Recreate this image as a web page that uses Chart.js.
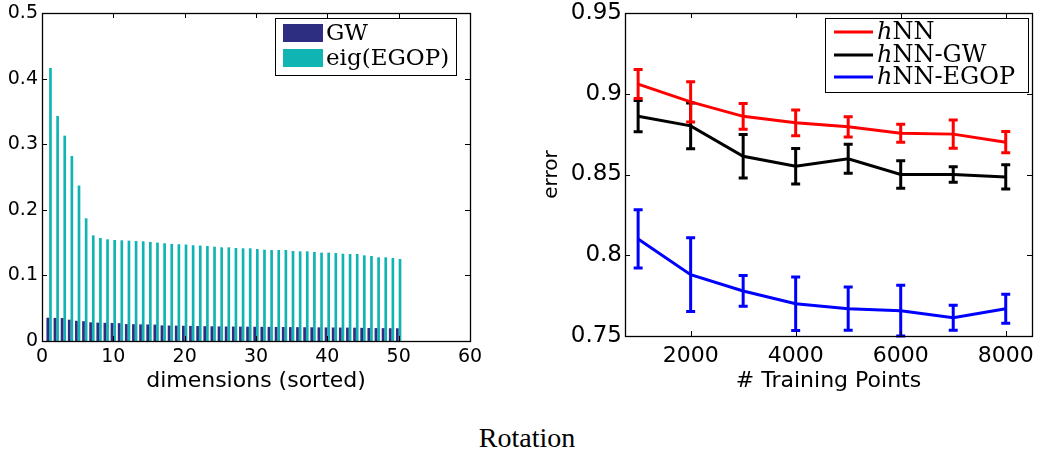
<!DOCTYPE html>
<html><head><meta charset="utf-8">
<script src="https://cdn.jsdelivr.net/npm/chart.js@4.4.0/dist/chart.umd.min.js"></script>
<style>
html,body{margin:0;padding:0;background:#fff;width:1038px;height:454px;overflow:hidden;position:relative}
#cl{position:absolute;left:0;top:0}
#cr{position:absolute;left:500px;top:0}
#cap{position:absolute;left:427px;width:200px;top:424px;text-align:center;font:28px/1 "Liberation Serif",serif;color:#000}
</style></head><body>
<canvas id="cl" width="500" height="400"></canvas>
<canvas id="cr" width="538" height="400"></canvas>
<div id="cap">Rotation</div>
<script>
// ---------- Left chart data ----------
const dims = [1,2,3,4,5,6,7,8,9,10,11,12,13,14,15,16,17,18,19,20,21,22,23,24,25,26,27,28,29,30,31,32,33,34,35,36,37,38,39,40,41,42,43,44,45,46,47,48,49,50];
const gwValues = [0.0355,0.0352,0.0350,0.0325,0.0308,0.0302,0.0285,0.0280,0.0277,0.0275,0.0272,0.0258,0.0256,0.0254,0.0252,0.0250,0.0238,0.0236,0.0234,0.0232,0.0230,0.0228,0.0226,0.0224,0.0222,0.0221,0.0220,0.0219,0.0218,0.0217,0.0216,0.0215,0.0214,0.0213,0.0212,0.0211,0.0210,0.0209,0.0208,0.0207,0.0206,0.0205,0.0204,0.0203,0.0201,0.0198,0.0197,0.0196,0.0195,0.0194];
const egopValues = [0.416,0.343,0.313,0.282,0.237,0.187,0.161,0.157,0.155,0.154,0.1535,0.153,0.1525,0.152,0.151,0.150,0.149,0.148,0.1475,0.147,0.146,0.1455,0.1448,0.1438,0.1428,0.1428,0.1418,0.1413,0.1413,0.1402,0.1392,0.1387,0.1387,0.1387,0.1372,0.1367,0.1367,0.1357,0.1347,0.1347,0.1341,0.1331,0.1326,0.1326,0.1306,0.1296,0.1276,0.1276,0.1265,0.125];
const leftXTicks = [0,10,20,30,40,50,60];
const leftYTicks = [0,0.1,0.2,0.3,0.4,0.5];
const leftSeriesNames = ['GW','eig(EGOP)'];
const leftXTitle = 'dimensions (sorted)';

// ---------- Right chart data ----------
const trainingPoints = [1000,2000,3000,4000,5000,6000,7000,8000];
const hnnValues  = [0.906,0.895,0.886,0.882,0.8795,0.8755,0.875,0.870];
const hnnErrors  = [0.009,0.0125,0.008,0.008,0.0063,0.0056,0.0087,0.0066];
const hnnGwValues = [0.8861,0.8801,0.8613,0.8551,0.8597,0.8500,0.8500,0.8485];
const hnnGwErrors = [0.0097,0.0141,0.0134,0.011,0.009,0.0085,0.0048,0.0075];
const hnnEgopValues = [0.8101,0.788,0.7779,0.770,0.7669,0.7657,0.7613,0.7669];
const hnnEgopErrors = [0.018,0.0228,0.0095,0.0166,0.0134,0.0157,0.0078,0.009];
const rightXTicks = [2000,4000,6000,8000];
const rightYTicks = [0.75,0.8,0.85,0.9,0.95];
const rightSeriesNames = ['hNN','hNN-GW','hNN-EGOP'];
const rightXTitle = '# Training Points';
const rightYTitle = 'error';

Chart.defaults.font.family = '"DejaVu Sans", sans-serif';
Chart.defaults.color = '#000';

const fmt = v => Number(Number(v).toFixed(3)).toString();

// box + inward ticks
const boxPlugin = {
  id: 'boxTicks',
  afterDatasetsDraw(chart) {
    const {ctx, chartArea: a, scales} = chart;
    const len = 5;
    ctx.save();
    ctx.strokeStyle = '#000';
    ctx.lineWidth = 1;
    ctx.beginPath();
    for (const t of scales.x.ticks) {
      const px = Math.round(scales.x.getPixelForValue(t.value)) + 0.5;
      ctx.moveTo(px, a.bottom); ctx.lineTo(px, a.bottom - len);
      ctx.moveTo(px, a.top); ctx.lineTo(px, a.top + len);
    }
    for (const t of scales.y.ticks) {
      const py = Math.round(scales.y.getPixelForValue(t.value)) + 0.5;
      ctx.moveTo(a.left, py); ctx.lineTo(a.left + len, py);
      ctx.moveTo(a.right, py); ctx.lineTo(a.right - len, py);
    }
    ctx.stroke();
    ctx.lineWidth = 1.3;
    ctx.strokeRect(Math.round(a.left) + 0.5, Math.round(a.top) + 0.5, Math.round(a.right - a.left), Math.round(a.bottom - a.top));
    ctx.restore();
  }
};

function drawSerifLabel(ctx, text, x, y, size) {
  ctx.textBaseline = 'middle';
  ctx.textAlign = 'left';
  ctx.fillStyle = '#000';
  if (text[0] === 'h') {
    ctx.font = 'italic ' + size + 'px "DejaVu Serif", serif';
    ctx.fillText('h', x, y);
    x += ctx.measureText('h').width;
    text = text.slice(1);
  }
  ctx.font = size + 'px "DejaVu Serif", serif';
  ctx.fillText(text, x, y);
}

const leftLegend = {
  id: 'leftLegend',
  afterDraw(chart) {
    const ctx = chart.ctx;
    ctx.save();
    ctx.fillStyle = '#fff';
    ctx.fillRect(275, 18, 181, 57);
    ctx.strokeStyle = '#000'; ctx.lineWidth = 1;
    ctx.strokeRect(275.5, 18.5, 181, 57);
    chart.data.datasets.forEach((ds, i) => {
      const cy = 33 + i * 25;
      ctx.fillStyle = ds.backgroundColor;
      ctx.fillRect(283, cy - 9, 40, 18);
      drawSerifLabel(ctx, ds.label, 326, cy + 1, 23);
    });
    ctx.restore();
  }
};

const rightLegend = {
  id: 'rightLegend',
  afterDraw(chart) {
    const ctx = chart.ctx;
    ctx.save();
    ctx.fillStyle = '#fff';
    ctx.fillRect(325, 18, 203, 74);
    ctx.strokeStyle = '#000'; ctx.lineWidth = 1;
    ctx.strokeRect(325.5, 18.5, 203, 74);
    const rows = [32, 55, 77];
    chart.data.datasets.forEach((ds, i) => {
      ctx.strokeStyle = ds.borderColor; ctx.lineWidth = 3;
      ctx.beginPath(); ctx.moveTo(334, rows[i]); ctx.lineTo(373, rows[i]); ctx.stroke();
      drawSerifLabel(ctx, ds.label, 377, rows[i] + 1, 24);
    });
    ctx.restore();
  }
};

const errorBars = {
  id: 'errorBars',
  afterDatasetDraw(chart, args) {
    const ds = chart.data.datasets[args.index];
    if (!ds.errors) return;
    const ctx = chart.ctx, y = chart.scales.y, a = chart.chartArea;
    ctx.save();
    ctx.beginPath(); ctx.rect(a.left, a.top - 2, a.right - a.left, a.bottom - a.top + 4); ctx.clip();
    ctx.strokeStyle = ds.borderColor; ctx.lineWidth = 3; ctx.lineCap = 'butt';
    args.meta.data.forEach((pt, i) => {
      const v = ds.data[i].y, e = ds.errors[i];
      const yt = y.getPixelForValue(v + e), yb = y.getPixelForValue(v - e);
      ctx.beginPath();
      ctx.moveTo(pt.x, yt); ctx.lineTo(pt.x, yb);
      ctx.moveTo(pt.x - 4.5, yt); ctx.lineTo(pt.x + 4.5, yt);
      ctx.moveTo(pt.x - 4.5, yb); ctx.lineTo(pt.x + 4.5, yb);
      ctx.stroke();
    });
    ctx.restore();
  }
};

// ---------- Left chart ----------
new Chart(document.getElementById('cl'), {
  type: 'bar',
  data: {
    datasets: [
      { label: leftSeriesNames[0], data: dims.map((d, i) => ({x: d, y: gwValues[i]})), backgroundColor: '#2d2d82', categoryPercentage: 0.75, barPercentage: 1 },
      { label: leftSeriesNames[1], data: dims.map((d, i) => ({x: d, y: egopValues[i]})), backgroundColor: '#10b4b2', categoryPercentage: 0.75, barPercentage: 1 }
    ]
  },
  options: {
    responsive: false, animation: false, devicePixelRatio: 1,
    layout: { padding: { left: 0, top: 13, right: 30, bottom: 0 } },
    plugins: { legend: { display: false }, tooltip: { enabled: false } },
    scales: {
      x: {
        type: 'linear', min: 0, max: 60, offset: false,
        grid: { display: false, drawTicks: false, offset: false }, border: { display: false },
        afterBuildTicks: s => { s.ticks = leftXTicks.map(v => ({value: v})); },
        ticks: { padding: 5, font: { size: 19 }, color: '#000', maxRotation: 0, autoSkip: false, callback: v => fmt(v) },
        title: { display: true, text: leftXTitle, font: { size: 22 }, color: '#000', padding: { top: 0, bottom: 6 } },
        afterFit: s => { s.height = 59; s.paddingLeft = 0; s.paddingRight = 0; }
      },
      y: {
        type: 'linear', min: 0, max: 0.5,
        grid: { display: false, drawTicks: false }, border: { display: false },
        afterBuildTicks: s => { s.ticks = leftYTicks.map(v => ({value: v})); },
        ticks: { padding: 4, font: { size: 19 }, color: '#000', callback: v => fmt(v) },
        afterFit: s => { s.width = 42; s.paddingTop = 0; s.paddingBottom = 0; }
      }
    }
  },
  plugins: [boxPlugin, leftLegend]
});

// ---------- Right chart ----------
function mk(values) { return trainingPoints.map((t, i) => ({x: t, y: values[i]})); }
new Chart(document.getElementById('cr'), {
  type: 'line',
  data: {
    datasets: [
      { label: rightSeriesNames[0], data: mk(hnnValues), errors: hnnErrors, borderColor: '#ff0000', backgroundColor: '#ff0000', borderWidth: 3, pointRadius: 0, tension: 0, fill: false },
      { label: rightSeriesNames[1], data: mk(hnnGwValues), errors: hnnGwErrors, borderColor: '#000000', backgroundColor: '#000000', borderWidth: 3, pointRadius: 0, tension: 0, fill: false },
      { label: rightSeriesNames[2], data: mk(hnnEgopValues), errors: hnnEgopErrors, borderColor: '#0000ff', backgroundColor: '#0000ff', borderWidth: 3, pointRadius: 0, tension: 0, fill: false }
    ]
  },
  options: {
    responsive: false, animation: false, devicePixelRatio: 1,
    layout: { padding: { left: 0, top: 13, right: 6, bottom: 0 } },
    plugins: { legend: { display: false }, tooltip: { enabled: false } },
    scales: {
      x: {
        type: 'linear', min: 750, max: 8500,
        grid: { display: false, drawTicks: false }, border: { display: false },
        afterBuildTicks: s => { s.ticks = rightXTicks.map(v => ({value: v})); },
        ticks: { padding: 7, font: { size: 22 }, color: '#000', maxRotation: 0, autoSkip: false, callback: v => String(v) },
        title: { display: true, text: rightXTitle, font: { size: 22 }, color: '#000', padding: { top: 0, bottom: 6 } },
        afterFit: s => { s.height = 64; s.paddingLeft = 0; s.paddingRight = 0; }
      },
      y: {
        type: 'linear', min: 0.75, max: 0.95,
        grid: { display: false, drawTicks: false }, border: { display: false },
        afterBuildTicks: s => { s.ticks = rightYTicks.map(v => ({value: v})); },
        ticks: { padding: 3, font: { size: 23 }, color: '#000', callback: v => fmt(v) },
        title: { display: true, text: rightYTitle, font: { size: 20 }, color: '#000', padding: { top: 40, bottom: 0 } },
        afterFit: s => { s.width = 125; s.paddingTop = 0; s.paddingBottom = 0; }
      }
    }
  },
  plugins: [boxPlugin, errorBars, rightLegend]
});
</script>
</body></html>
